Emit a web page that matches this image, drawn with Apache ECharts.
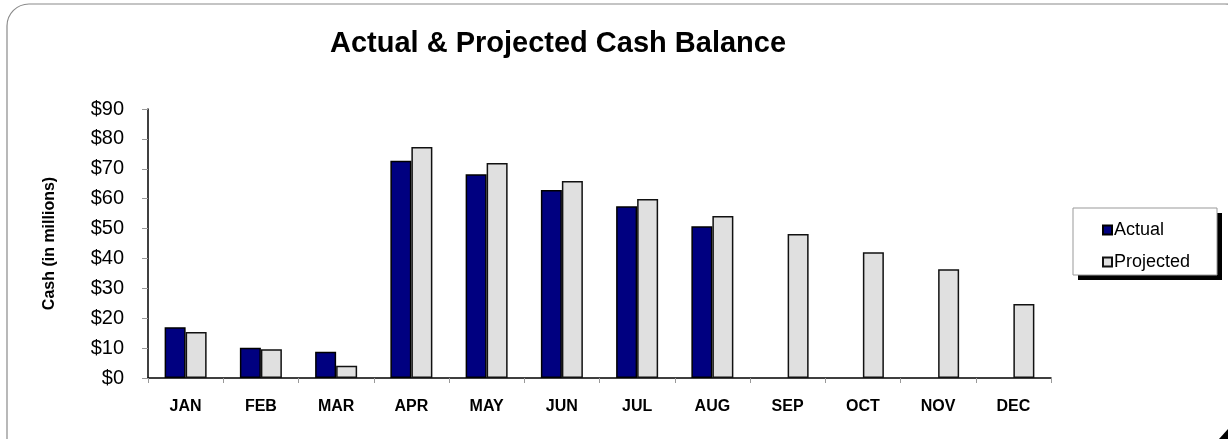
<!DOCTYPE html>
<html>
<head>
<meta charset="utf-8">
<script src="https://cdn.jsdelivr.net/npm/echarts@6/dist/echarts.min.js"></script>
<style>
html,body{margin:0;padding:0;background:#fff;}
#chart{width:1228px;height:439px;}
</style>
</head>
<body>
<div id="chart"></div>
<script>
const months = ['JAN','FEB','MAR','APR','MAY','JUN','JUL','AUG','SEP','OCT','NOV','DEC'];
const actual = [17.0, 10.1, 8.8, 72.7, 68.2, 62.9, 57.5, 50.8, null, null, null, null];
const projected = [15.4, 9.6, 4.1, 77.3, 71.9, 65.9, 59.9, 54.2, 48.2, 42.1, 36.4, 24.8];
const yTicks = [0, 10, 20, 30, 40, 50, 60, 70, 80, 90];

const chart = echarts.init(document.getElementById('chart'));
const font = 'Liberation Sans, Arial, sans-serif';
chart.setOption({
  animation: false,
  backgroundColor: '#fff',
  title: {
    text: 'Actual & Projected Cash Balance',
    left: 553, top: 24, textAlign: 'center',
    textStyle: {fontFamily: font, fontSize: 29, fontWeight: 'bold', color: '#000'}
  },
  graphic: [
    {type: 'rect', shape: {x: 7, y: 4, width: 1240, height: 460, r: 22},
     style: {fill: 'none', stroke: '#8a8a8a', lineWidth: 1.2}, z: -1},
    {type: 'polygon', shape: {points: [[1228, 429], [1228, 439], [1219, 439]]},
     style: {fill: '#000'}},
    {type: 'rect', shape: {x: 1078, y: 213, width: 144, height: 67},
     style: {fill: '#000'}, z: 1},
    {type: 'rect', shape: {x: 1073, y: 208, width: 144, height: 67},
     style: {fill: '#fff', stroke: '#999', lineWidth: 1}, z: 2}
  ],
  legend: {
    orient: 'vertical', left: 1097, top: 216, z: 10,
    itemWidth: 9, itemHeight: 9, itemGap: 14,
    icon: 'rect',
    textStyle: {fontFamily: font, fontSize: 18, color: '#000', padding: [0, 0, 0, -3]},
    data: ['Actual', 'Projected']
  },
  grid: {left: 148, right: 177, top: 109, bottom: 61},
  xAxis: {
    type: 'category', data: months, boundaryGap: true,
    axisLine: {lineStyle: {color: '#000', width: 1.5}},
    axisTick: {show: true, length: 5, lineStyle: {color: '#999'}},
    axisLabel: {fontFamily: font, fontSize: 16, fontWeight: 'bold', color: '#000', margin: 21}
  },
  yAxis: {
    type: 'value', min: yTicks[0], max: yTicks[yTicks.length - 1], interval: 10,
    name: 'Cash (in millions)', nameLocation: 'middle', nameGap: 90, nameRotate: 90,
    nameTextStyle: {fontFamily: font, fontSize: 16, fontWeight: 'bold', color: '#000'},
    axisLine: {show: true, lineStyle: {color: '#000', width: 1.5}},
    axisTick: {show: true, length: 6, lineStyle: {color: '#999'}},
    splitLine: {show: false},
    axisLabel: {fontFamily: font, fontSize: 20, color: '#000', margin: 24,
      formatter: v => '$' + v}
  },
  series: [
    {name: 'Actual', type: 'bar', data: actual, barWidth: 21, barGap: '0%',
     itemStyle: {color: '#000080', borderColor: '#000', borderWidth: 1.5}},
    {name: 'Projected', type: 'bar', data: projected, barWidth: 21,
     itemStyle: {color: '#e0e0e0', borderColor: '#111', borderWidth: 1.5}}
  ]
});
</script>
</body>
</html>
